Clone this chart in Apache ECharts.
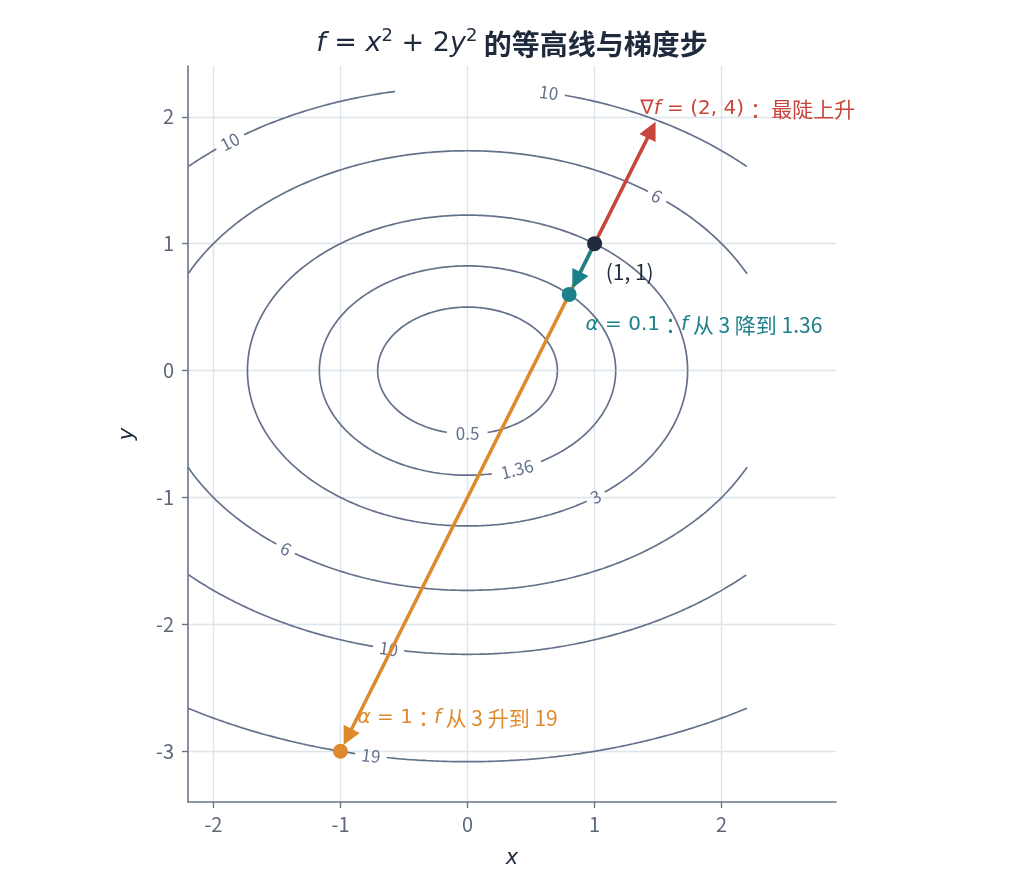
<!DOCTYPE html>
<html lang="zh">
<head>
<meta charset="utf-8">
<title>等高线与梯度步</title>
<script src="https://cdn.jsdelivr.net/npm/echarts@6/dist/echarts.min.js"></script>
<style>
  html, body { margin: 0; background: #fff; }
  #chart { width: 1024px; height: 896px; }
</style>
</head>
<body>
<div id="chart"></div>
<script>
// f = x^2 + 2y^2, contour levels drawn in the figure
const levels = [0.5, 1.36, 3, 6, 10, 19];
// inline contour labels: [level, x, branch] (branch +1 = upper half, -1 = lower half)
const labelSpots = [
  [0.5, 0.0, -1], [1.36, 0.39, -1], [3, 1.01, -1],
  [6, 1.49, 1], [6, -1.43, -1],
  [10, -1.87, 1], [10, 0.64, 1], [10, -0.62, -1],
  [19, -0.76, -1]
];
const start = [1, 1];
const grad = [2, 4];
const gradScale = 0.24;
const stepSmall = [0.8, 0.6];   // alpha = 0.1
const stepBig = [-1, -3];       // alpha = 1
const xTicks = [-2, -1, 0, 1, 2];
const yTicks = [-3, -2, -1, 0, 1, 2];

const C = {
  red: '#c8453b', teal: '#1b808a', orange: '#de8a2c', dark: '#1f2b3d',
  contour: '#64718a', axis: '#6b7586', grid: '#dce4ec', tick: '#5d6778'
};
const PX = 127;   // pixels per unit (for gaps / arrow shrink)
const box = { x0: -2.2, x1: 2.2, y0: -3.3, y1: 2.2 };
const MATH = 'DejaVu Sans';
const CJK = 'Noto Sans CJK SC';
const NOTE = 'Noto Sans CJK JP';

function spotsOf(c) {
  return labelSpots.filter(s => s[0] === c).map(s => {
    const x = s[1];
    const y = s[2] * Math.sqrt((c - x * x) / 2);
    const r = (String(c).length * 5 + 5) / PX;
    return [x, y, r];
  });
}

function contour(c) {
  const a = Math.sqrt(c), b = Math.sqrt(c / 2);
  const spots = spotsOf(c);
  const pts = [];
  const N = 3600;
  for (let i = 0; i <= N; i++) {
    const t = 2 * Math.PI * i / N;
    const x = a * Math.cos(t), y = b * Math.sin(t);
    const out = x < box.x0 || x > box.x1 || y < box.y0 || y > box.y1;
    const hide = spots.some(s => Math.hypot(x - s[0], y - s[1]) < s[2]);
    pts.push(out || hide ? [null, null] : [x, y]);
  }
  return pts;
}

const contourSeries = levels.map(c => ({
  type: 'line', data: contour(c), showSymbol: false, symbol: 'none',
  connectNulls: false, silent: true, z: 3,
  lineStyle: { color: C.contour, width: 1.7 }
}));

const labelData = [];
levels.forEach(c => {
  spotsOf(c).forEach(s => {
    const slope = -s[0] / (2 * s[1]);
    labelData.push({
      value: [s[0], s[1]],
      label: { formatter: String(c), rotate: Math.atan(slope) * 180 / Math.PI }
    });
  });
});

function back(p, q, px) {
  const dx = q[0] - p[0], dy = q[1] - p[1], L = Math.hypot(dx, dy);
  return [q[0] - dx / L * px / PX, q[1] - dy / L * px / PX];
}
const gradTip = [start[0] + gradScale * grad[0], start[1] + gradScale * grad[1]];
const HEAD = 18;

function arrow(from, tip, color, z) {
  return {
    type: 'lines', coordinateSystem: 'cartesian2d', z: z, silent: true,
    symbol: ['none', 'triangle'], symbolSize: HEAD,
    lineStyle: { color: color, width: 3.5, opacity: 1 },
    data: [{ coords: [from, back(from, tip, HEAD / 2)] }]
  };
}

// text annotations: [x, y, rich text]
const notes = [
  [1.36, 2.063, '{ir|∇f}{mr| = (2, 4) }{r|：最陡上升}'],
  [1.087, 0.78, '{d|(1, 1)}'],
  [0.929, 0.362, '{it|α}{mt| = 0.1}{t|：}{it|f}{t| 从 3 降到 1.36}'],
  [-0.866, -2.74, '{io|α}{mo| = 1}{o|：}{io|f}{o| 从 3 升到 19}']
];
function txt(color, kind) {
  return {
    color: color,
    fontSize: kind === 'cjk' ? 21 : 20,
    fontFamily: kind === 'cjk' ? NOTE : MATH,
    fontStyle: kind === 'it' ? 'italic' : 'normal'
  };
}

const chart = echarts.init(document.getElementById('chart'));
chart.setOption({
  animation: false,
  backgroundColor: '#fff',
  title: {
    left: 'center', top: 22,
    text: '{i|f}{n| = }{i|x}{s|2}{n| + 2}{i|y}{s|2}{b| 的等高线与梯度步}',
    textStyle: {
      fontWeight: 'normal',
      rich: {
        i: { fontFamily: MATH, fontStyle: 'italic', fontWeight: 'normal', fontSize: 27, color: C.dark, lineHeight: 34 },
        n: { fontFamily: MATH, fontWeight: 'normal', fontSize: 27, color: C.dark, lineHeight: 34 },
        s: { fontFamily: MATH, fontWeight: 'normal', fontSize: 18, color: C.dark, verticalAlign: 'top', lineHeight: 18 },
        b: { fontFamily: CJK, fontWeight: 'bold', fontSize: 28, color: C.dark, lineHeight: 34 }
      }
    }
  },
  grid: { left: 188, right: 188, top: 66, bottom: 94 },
  xAxis: {
    type: 'value', min: -2.2, max: 2.9,
    name: 'x', nameLocation: 'middle', nameGap: 46,
    nameTextStyle: { fontFamily: MATH, fontStyle: 'italic', fontSize: 21, color: C.dark },
    axisLine: { onZero: false, lineStyle: { color: C.axis, width: 1.6 } },
    axisTick: { customValues: xTicks, length: 6, lineStyle: { color: C.axis, width: 1.4 } },
    axisLabel: { customValues: xTicks, margin: 12, fontFamily: CJK, fontSize: 20, color: C.tick },
    splitLine: { show: true, lineStyle: { color: C.grid, width: 1.4 } }
  },
  yAxis: {
    type: 'value', min: -3.4, max: 2.4,
    name: 'y', nameLocation: 'middle', nameGap: 50, nameRotate: 90,
    nameTextStyle: { fontFamily: MATH, fontStyle: 'italic', fontSize: 21, color: C.dark },
    axisLine: { onZero: false, lineStyle: { color: C.axis, width: 1.6 } },
    axisTick: { customValues: yTicks, length: 6, lineStyle: { color: C.axis, width: 1.4 } },
    axisLabel: { customValues: yTicks, margin: 14, fontFamily: CJK, fontSize: 20, color: C.tick },
    splitLine: { show: true, lineStyle: { color: C.grid, width: 1.4 } }
  },
  series: contourSeries.concat([
    {
      type: 'scatter', data: labelData, symbolSize: 0, silent: true, z: 4,
      itemStyle: { opacity: 1 },
      label: { show: true, position: 'inside', fontFamily: CJK, fontSize: 17, color: C.contour }
    },
    arrow(start, back(start, stepBig, 7), C.orange, 5),
    arrow(start, back(start, stepSmall, 7), C.teal, 6),
    arrow(start, gradTip, C.red, 6),
    {
      type: 'scatter', symbolSize: 15, silent: true, z: 7,
      itemStyle: { opacity: 1 },
      data: [
        { value: stepBig, itemStyle: { color: C.orange } },
        { value: stepSmall, itemStyle: { color: C.teal } },
        { value: start, itemStyle: { color: C.dark } }
      ]
    },
    {
      type: 'scatter', symbolSize: 0, silent: true, z: 8,
      itemStyle: { opacity: 1 },
      data: notes.map(n => ({ value: [n[0], n[1]], label: { formatter: n[2] } })),
      label: {
        show: true, position: 'right', distance: 0,
        rich: {
          ir: txt(C.red, 'it'), mr: txt(C.red, 'm'), r: txt(C.red, 'cjk'),
          d: txt(C.dark, 'cjk'),
          it: txt(C.teal, 'it'), mt: txt(C.teal, 'm'), t: txt(C.teal, 'cjk'),
          io: txt(C.orange, 'it'), mo: txt(C.orange, 'm'), o: txt(C.orange, 'cjk')
        }
      }
    }
  ])
});
</script>
</body>
</html>
